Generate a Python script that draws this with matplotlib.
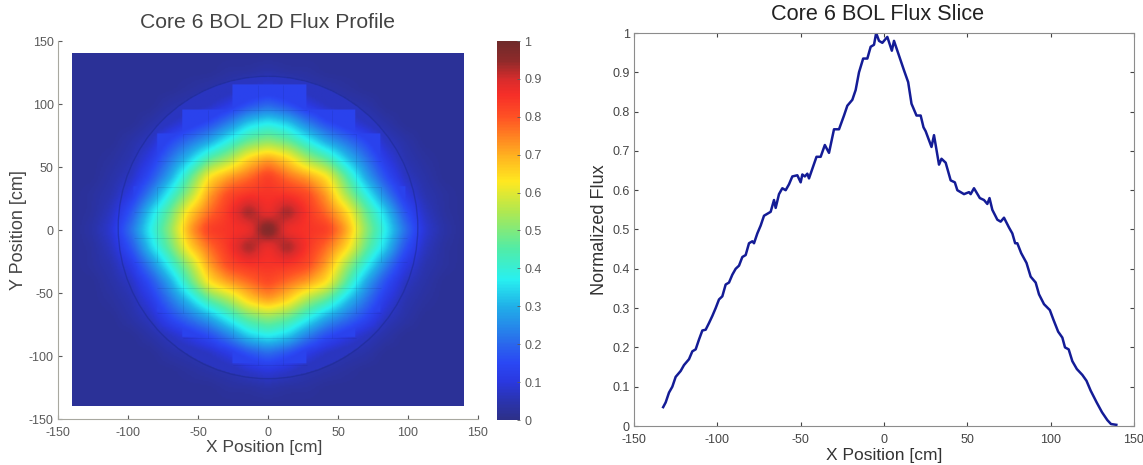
"""Core 6 BOL flux profile and slice."""
import numpy as np
import matplotlib
matplotlib.use("Agg")
import matplotlib.pyplot as plt
from matplotlib.colors import LinearSegmentedColormap
from matplotlib.patches import Ellipse

plt.rcParams['font.family'] = ['Liberation Sans', 'DejaVu Sans']

# flux map read at 14 cm spacing, x left to right, y top to bottom (percent of peak)
grid_pos = [-140, -126, -112, -98, -84, -70, -56, -42, -28, -14, 0, 14, 28, 42, 56, 70, 84, 98, 112, 126, 140]
flux_grid = [
    [2, 2, 2, 2, 2, 2, 2, 2, 2, 2, 2, 2, 2, 2, 2, 2, 2, 2, 2, 2, 2],
    [2, 2, 2, 2, 2, 2, 2, 2, 3, 3, 4, 3, 3, 2, 2, 2, 2, 2, 2, 2, 2],
    [2, 2, 2, 2, 2, 2, 3, 4, 5, 8, 10, 8, 5, 4, 3, 2, 2, 2, 2, 2, 2],
    [2, 2, 2, 2, 2, 4, 5, 7, 11, 17, 21, 17, 11, 7, 5, 4, 2, 2, 2, 2, 2],
    [2, 2, 2, 2, 4, 7, 11, 16, 24, 34, 38, 34, 24, 16, 11, 7, 4, 2, 2, 2, 2],
    [2, 2, 2, 4, 7, 15, 22, 29, 39, 48, 52, 48, 39, 29, 22, 15, 7, 4, 2, 2, 2],
    [2, 2, 3, 5, 11, 22, 33, 46, 54, 66, 72, 66, 54, 46, 33, 22, 11, 5, 3, 2, 2],
    [2, 2, 4, 7, 16, 29, 46, 64, 72, 77, 84, 77, 72, 64, 46, 29, 16, 7, 4, 2, 2],
    [2, 3, 5, 11, 24, 39, 54, 72, 82, 85, 85, 85, 82, 72, 54, 39, 24, 11, 5, 3, 2],
    [2, 3, 7, 17, 34, 48, 66, 77, 85, 95, 86, 95, 85, 77, 66, 48, 34, 17, 7, 3, 2],
    [2, 4, 9, 22, 38, 52, 72, 84, 85, 86, 100, 86, 85, 84, 72, 52, 38, 22, 9, 4, 2],
    [2, 3, 7, 17, 34, 48, 66, 77, 85, 95, 86, 95, 85, 77, 66, 48, 34, 17, 7, 3, 2],
    [2, 3, 5, 11, 24, 39, 54, 72, 82, 85, 85, 85, 82, 72, 54, 39, 24, 11, 5, 3, 2],
    [2, 2, 4, 7, 16, 29, 46, 64, 72, 77, 82, 77, 72, 64, 46, 29, 16, 7, 4, 2, 2],
    [2, 2, 3, 5, 11, 22, 33, 46, 54, 66, 72, 66, 54, 46, 33, 22, 11, 5, 3, 2, 2],
    [2, 2, 2, 4, 7, 15, 22, 29, 39, 48, 52, 48, 39, 29, 22, 15, 7, 4, 2, 2, 2],
    [2, 2, 2, 2, 4, 7, 11, 16, 24, 34, 38, 34, 24, 16, 11, 7, 4, 2, 2, 2, 2],
    [2, 2, 2, 2, 2, 4, 5, 7, 11, 17, 21, 17, 11, 7, 5, 4, 2, 2, 2, 2, 2],
    [2, 2, 2, 2, 2, 2, 3, 4, 5, 8, 10, 8, 5, 4, 3, 2, 2, 2, 2, 2, 2],
    [2, 2, 2, 2, 2, 2, 2, 2, 3, 3, 4, 3, 3, 2, 2, 2, 2, 2, 2, 2, 2],
    [2, 2, 2, 2, 2, 2, 2, 2, 2, 2, 2, 2, 2, 2, 2, 2, 2, 2, 2, 2, 2],
]

# fuel assembly rows: top, bottom, left, right (cm)
assembly_rows = [
    (115, 95, -25, 28), (95, 76, -61, 63), (76, 55, -79, 81), (55, 34, -79, 81),
    (34, 14, -96, 99), (14, -6, -96, 99), (-6, -25, -96, 99), (-25, -46, -79, 81),
    (-46, -66, -79, 81), (-66, -86, -61, 63), (-86, -107, -25, 28),
]
assembly_x = [-79, -61, -43, -25, -7, 11, 29, 46, 63, 81]
assembly_flux = 0.135
vessel_flux = 0.07
vessel_x, vessel_y, vessel_rx, vessel_ry = 0, 2, 107, 120

slice_x = [-132.5, -131, -129, -127, -125, -122, -120, -117, -115, -113, -111, -109, -107, -105, -103, -101,
           -99, -97, -95, -93, -91, -89, -87, -85, -83, -81, -79, -78, -76, -74, -72, -70, -68, -66, -65, -63,
           -61, -59, -57, -55, -52, -50, -49, -47.5, -46, -45, -40.5, -38, -35.5, -33, -30, -27, -24, -22, -19,
           -17, -15, -12.5, -10, -8, -6, -4.7, -3, -1, 2, 4.7, 6, 8, 10, 12, 14.5, 16.5, 19.5, 22, 23.7, 25,
           28.5, 30, 33, 34.5, 37, 40, 42.5, 44, 48, 51, 52, 54, 57.5, 60, 62, 63.3, 65, 68, 70, 72, 75, 77,
           78.7, 80, 82.3, 85.5, 88, 91, 93, 96, 99.5, 101.7, 104.5, 107, 108.6, 110.8, 113, 115.7, 119, 121.5,
           124, 127.6, 130.8, 134, 136.2, 139.4]
slice_y = [.048, .06, .085, .10, .125, .14, .155, .17, .19, .195, .22, .243, .245, .262, .28, .30,
           .322, .33, .36, .365, .385, .40, .408, .43, .435, .465, .47, .465, .49, .51, .535, .54, .545, .575, .555, .59,
           .605, .60, .615, .635, .638, .62, .64, .635, .642, .63, .685, .685, .715, .695, .755, .755, .79, .815, .83,
           .855, .90, .935, .935, .965, .97, 1.0, .98, .975, .99, .955, .98, .955, .93, .905, .875, .82, .79, .79, .76, .75,
           .71, .74, .665, .68, .67, .625, .62, .60, .59, .595, .59, .605, .58, .575, .565, .58, .55, .525, .52, .53, .505, .49,
           .465, .465, .44, .415, .38, .365, .335, .31, .295, .27, .24, .225, .20, .195, .165, .145, .13, .115,
           .09, .06, .035, .015, .005, .003]

tick_vals = [-150, -100, -50, 0, 50, 100, 150]
flux_ticks = [0, .1, .2, .3, .4, .5, .6, .7, .8, .9, 1]
flux_labels = ['0', '0.1', '0.2', '0.3', '0.4', '0.5', '0.6', '0.7', '0.8', '0.9', '1']

cmap_stops = [(0, '#2d3088'), (.05, '#2a34b0'), (.1, '#2a38e0'), (.15, '#2a48f4'), (.2, '#2a68ec'), (.3, '#20b0e8'),
              (.37, '#28f0f0'), (.45, '#50eca8'), (.55, '#b0e850'), (.63, '#ffe820'), (.7, '#ffb020'),
              (.8, '#ff5224'), (.86, '#f62e28'), (.9, '#d82c2c'), (.95, '#8e2a2a'), (1, '#6e2a2a')]
muted_jet = LinearSegmentedColormap.from_list('muted_jet', cmap_stops)

W, H = 1143, 465
GREY = '#5a5a5a'
AXIS = '#a8a8a0'


def ax_box(left, top, right, bottom):
    return [left / W, 1 - bottom / H, (right - left) / W, (bottom - top) / H]


def blur(a, n=5, passes=3):
    kernel = np.ones(n) / n
    for _ in range(passes):
        a = np.pad(a, n, mode='edge')
        a = np.apply_along_axis(lambda r: np.convolve(r, kernel, mode='same'), 0, a)
        a = np.apply_along_axis(lambda r: np.convolve(r, kernel, mode='same'), 1, a)
        a = a[n:-n, n:-n]
    return a


def build_field():
    """Smooth the read-off grid and lay the assembly and vessel floors under it."""
    fine = np.arange(-140, 140.5, 1.0)
    coarse = np.array(flux_grid, dtype=float) / 100
    rows = np.array([np.interp(fine, grid_pos, r) for r in coarse])
    field = np.array([np.interp(fine, grid_pos, c) for c in rows.T]).T
    field = blur(field)
    xx, yy = np.meshgrid(fine, fine[::-1])
    inside = ((xx - vessel_x) / vessel_rx) ** 2 + ((yy - vessel_y) / vessel_ry) ** 2 <= 1
    field = np.where(inside, np.maximum(field, vessel_flux), field)
    for top, bot, left, right in assembly_rows:
        mask = (yy <= top) & (yy > bot) & (xx >= left) & (xx < right)
        field = np.where(mask, np.maximum(field, assembly_flux), field)
    return field


def style_ticks(ax):
    ax.set_xlim(-150, 150)
    ax.set_xticks(tick_vals)
    ax.set_xticklabels([str(t) for t in tick_vals])
    ax.tick_params(colors=GREY, labelsize=9, length=3, width=0.8, direction='in', pad=3)
    ax.tick_params(axis='x', pad=6)


fig = plt.figure(figsize=(W / 100, H / 100), dpi=100)

# 2D map
ax1 = fig.add_axes(ax_box(58, 41, 478, 419))
im = ax1.imshow(build_field(), extent=(-140, 140, -140, 140), cmap=muted_jet, vmin=0, vmax=1,
                interpolation='bilinear', aspect='auto')
ax1.add_patch(Ellipse((vessel_x, vessel_y), 2 * vessel_rx, 2 * vessel_ry, fill=False, ec='#1c2a90', lw=1, alpha=0.5))
for top, bot, left, right in assembly_rows:
    ax1.vlines([x for x in assembly_x if left < x < right], bot, top, color='#102060', lw=0.5, alpha=0.15)
    ax1.hlines(bot, left, right, color='#102060', lw=0.5, alpha=0.15)
style_ticks(ax1)
ax1.set_ylim(-150, 150)
ax1.set_yticks(tick_vals)
ax1.set_yticklabels([str(t) for t in tick_vals])
ax1.spines['top'].set_visible(False)
ax1.spines['right'].set_visible(False)
ax1.spines['left'].set_color(AXIS)
ax1.spines['bottom'].set_color(AXIS)
ax1.tick_params(top=False, right=False)
ax1.set_xlabel('X Position [cm]', fontsize=12.5, color='#444444')
ax1.xaxis.set_label_coords(0.49, -0.056, transform=ax1.transAxes)
ax1.set_ylabel('Y Position [cm]', fontsize=13, color='#444444', labelpad=1)
fig.text(267 / W, 1 - 23 / H, 'Core 6 BOL 2D Flux Profile', fontsize=15.2, color='#444444', ha='center', va='center')

# colorbar
cax = fig.add_axes(ax_box(497, 41, 520, 420))
cb = fig.colorbar(im, cax=cax)
cb.set_ticks(flux_ticks)
cb.set_ticklabels(flux_labels)
cb.ax.tick_params(colors=GREY, labelsize=9, length=2, width=0.6, direction='in', pad=3)
cb.outline.set_visible(False)

# slice
ax2 = fig.add_axes(ax_box(634, 33, 1134, 426))
ax2.plot(slice_x, slice_y, color='#141c96', lw=1.8)
style_ticks(ax2)
ax2.set_ylim(0, 1)
ax2.set_yticks(flux_ticks)
ax2.set_yticklabels(flux_labels)
ax2.tick_params(top=True, right=True, colors='#444444')
for s in ax2.spines.values():
    s.set_color('#8c8c8c')
ax2.set_xlabel('X Position [cm]', fontsize=12.5, color='#333333')
ax2.xaxis.set_label_coords(0.5, -0.056, transform=ax2.transAxes)
ax2.set_ylabel('Normalized Flux', fontsize=13, color='#333333', labelpad=3)
fig.text(878 / W, 1 - 14 / H, 'Core 6 BOL Flux Slice', fontsize=15.6, color='#222222', ha='center', va='center')

fig.savefig('out.png', dpi=100)
